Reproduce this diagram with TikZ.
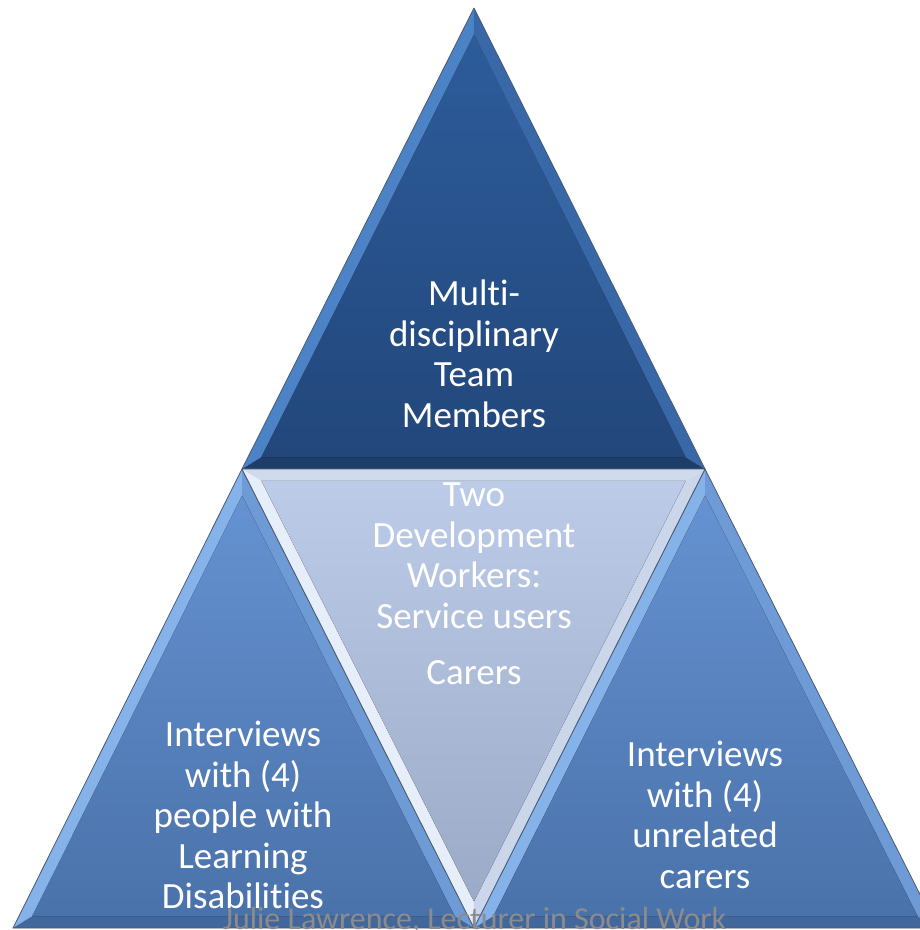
\documentclass[tikz,border=0pt]{standalone}
\usepackage{fontspec}
\setmainfont{Carlito}[Ligatures=NoCommon]
\usetikzlibrary{calc}

\definecolor{topTop}{HTML}{2D5C9B}
\definecolor{topBottom}{HTML}{22477B}
\definecolor{topLight}{HTML}{4C82C6}
\definecolor{topEdge}{HTML}{3868A8}
\definecolor{topDark}{HTML}{1D3D6B}
\definecolor{sideTop}{HTML}{6592D1}
\definecolor{sideBottom}{HTML}{4A72AA}
\definecolor{sideLight}{HTML}{86B2EA}
\definecolor{sideEdge}{HTML}{6E9AD6}
\definecolor{sideDark}{HTML}{41679D}
\definecolor{midTop}{HTML}{BCCBE8}
\definecolor{midBottom}{HTML}{9BABC7}
\definecolor{midLight}{HTML}{E6EEF9}
\definecolor{midEdge}{HTML}{CBD6EA}
\definecolor{midDark}{HTML}{D0DAEC}
\definecolor{rimGrey}{HTML}{4A5A70}
\definecolor{creditGrey}{HTML}{8C8C8C}

\begin{document}
\begin{tikzpicture}[%
        x = 1pt,
        y = -1pt,
        tritext/.style = {text=white, align=center, inner sep=0pt,
                          font=\fontsize{37}{40.5}\selectfont},
        credit/.style = {text=creditGrey, inner sep=0pt,
                         font=\fontsize{32}{36}\selectfont},
        rim/.style = {draw=rimGrey, line width=0.8pt, line join=round}
    ]

        \useasboundingbox (0,0) rectangle (920,930);
        \clip (0,0) rectangle (920,930);

        % Corner points of the four triangles.
        \coordinate (T1) at (474,8);
        \coordinate (L1) at (242,469);
        \coordinate (R1) at (705,469);
        \coordinate (B1) at (13,928);
        \coordinate (B2) at (474,928);
        \coordinate (B3) at (937,928);

        % Incentres, used to inset the bevel.
        \coordinate (IT) at (473.6,326.2);
        \coordinate (IL) at (242.8,785.8);
        \coordinate (IR) at (705.3,785.8);
        \coordinate (IM) at (473.6,611.1);

        % Each triangle: three bevel faces and a shaded face.
        \foreach \a/\b/\c/\i/\tri in {T1/L1/R1/IT/top, L1/B1/B2/IL/side,
                                      R1/B2/B3/IR/side, B2/L1/R1/IM/mid} {
            \coordinate (ai) at ($(\i)!0.916!(\a)$);
            \coordinate (bi) at ($(\i)!0.916!(\b)$);
            \coordinate (ci) at ($(\i)!0.916!(\c)$);
            \fill[\tri Light] (\a) -- (\b) -- (bi) -- (ai) -- cycle;
            \fill[\tri Edge]  (\a) -- (\c) -- (ci) -- (ai) -- cycle;
            \fill[\tri Dark]  (\b) -- (\c) -- (ci) -- (bi) -- cycle;
            \fill[top color=\tri Top, bottom color=\tri Bottom]
                (ai) -- (bi) -- (ci) -- cycle;
            \draw[rim] (\a) -- (\b) -- (\c) -- cycle;
        }

        % Texts of the triangles.
        \node[tritext] (team) at (474,354)
            {Multi-\\disciplinary\\Team\\Members};
        \node[tritext] (workers) at (474,584)
            {Two\\Development\\Workers:\\Service users\\[16pt]Carers};
        \node[tritext] (people) at (243,815)
            {Interviews\\with (4)\\people with\\Learning\\Disabilities};
        \node[tritext] (carers) at (705,815)
            {Interviews\\with (4)\\unrelated\\carers};

        \node[credit, anchor=base] (author) at (474.5,929)
            {Julie Lawrence, Lecturer in Social Work};
    \end{tikzpicture}
\end{document}
